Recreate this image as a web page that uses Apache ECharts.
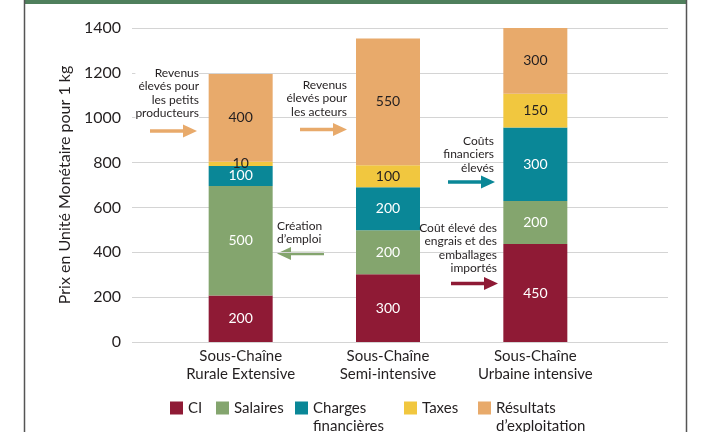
<!DOCTYPE html>
<html>
<head>
<meta charset="utf-8">
<script src="https://cdn.jsdelivr.net/npm/echarts@6/dist/echarts.min.js"></script>
<style>
  html, body { margin: 0; padding: 0; background: #fff; }
  #chart { width: 713px; height: 432px; }
</style>
</head>
<body>
<div id="chart"></div>
<script>
// catégories et valeurs
const categories = ['Sous-Chaîne\nRurale Extensive', 'Sous-Chaîne\nSemi-intensive', 'Sous-Chaîne\nUrbaine intensive']
const ciValues = [207, 302, 437]
const salairesValues = [489, 196, 192]
const chargesValues = [89, 192, 327]
const taxesValues = [19, 98, 151]
const resultatsValues = [391, 565, 293]

// étiquettes affichées dans les barres
const ciLabels = ['200', '300', '450']
const salairesLabels = ['500', '200', '200']
const chargesLabels = ['100', '200', '300']
const taxesLabels = ['10', '100', '150']
const resultatsLabels = ['400', '550', '300']

const yTicks = { min: 0, max: 1400, interval: 200 }

const FONT = 'Lato'
const TEXT = '#231f20'

const chart = echarts.init(document.getElementById('chart'))

const makeSeries = (name, values, labels, color, labelColor) => ({
  name: name,
  type: 'bar',
  stack: 'total',
  xAxisIndex: 1,
  yAxisIndex: 1,
  barWidth: 64,
  data: values,
  itemStyle: { color: color },
  label: {
    show: true,
    position: 'inside',
    color: labelColor,
    fontFamily: FONT,
    fontSize: 14,
    formatter: p => labels[p.dataIndex]
  }
})

// flèche horizontale (décoration)
const arrow = (x1, x2, y, color) => {
  const dir = x2 > x1 ? 1 : -1
  const head = 14
  return {
    type: 'group',
    children: [
      { type: 'line', shape: { x1: x1, y1: y, x2: x2 - dir * head, y2: y }, style: { stroke: color, lineWidth: 3.5 } },
      { type: 'polygon', shape: { points: [[x2, y], [x2 - dir * head, y - 6.5], [x2 - dir * head, y + 6.5]] }, style: { fill: color } }
    ]
  }
}

const note = (x, y, text, align, bg) => ({
  type: 'text',
  x: x,
  y: y,
  z: 10,
  style: {
    text: text,
    align: align,
    verticalAlign: 'top',
    font: '12px ' + FONT,
    lineHeight: 13.5,
    fill: TEXT,
    backgroundColor: bg || 'transparent'
  }
})

// carré en haut d'une case plus haute, pour aligner l'icône sur la 1re ligne
const TOP_SQUARE = 'path://M0,0L13,0L13,13L0,13ZM0,31L0.01,31L0,31.01Z'

const legendItem = (name, left, twoLines) => ({
  left: left,
  top: 399,
  padding: 0,
  orient: 'horizontal',
  data: [name],
  icon: twoLines ? TOP_SQUARE : 'rect',
  itemWidth: 13,
  itemHeight: twoLines ? 31 : 13,
  selectedMode: false,
  textStyle: {
    fontFamily: FONT,
    fontSize: 15,
    color: TEXT,
    lineHeight: 18
  }
})

chart.setOption({
  backgroundColor: '#fff',
  animation: false,
  grid: [
    { left: 132, right: 45, top: 28, bottom: 90 },
    { left: 167, right: 104, top: 28, bottom: 90 }
  ],
  xAxis: [
    { type: 'category', gridIndex: 0, data: [''], show: false },
    {
      type: 'category',
      gridIndex: 1,
      data: categories,
      axisLine: { show: false },
      axisTick: { show: false },
      axisLabel: { interval: 0, fontFamily: FONT, fontSize: 15, color: TEXT, lineHeight: 18, margin: 5 }
    }
  ],
  yAxis: [
    {
      type: 'value',
      gridIndex: 0,
      min: yTicks.min,
      max: yTicks.max,
      interval: yTicks.interval,
      name: 'Prix en Unité Monétaire pour 1 kg',
      nameLocation: 'middle',
      nameGap: 36,
      nameTextStyle: { fontFamily: FONT, fontSize: 16, color: TEXT },
      axisLine: { show: false },
      axisTick: { show: false },
      axisLabel: { fontFamily: FONT, fontSize: 16, color: TEXT, margin: 11, formatter: v => String(v) },
      splitLine: { lineStyle: { color: '#d4d4d4', width: 1 } }
    },
    { type: 'value', gridIndex: 1, min: yTicks.min, max: yTicks.max, show: false, splitLine: { show: false } }
  ],
  legend: [
    legendItem('CI', 170, false),
    legendItem('Salaires', 216, false),
    legendItem('Charges\nfinancières', 295, true),
    legendItem('Taxes', 404, false),
    legendItem('Résultats\nd\u2019exploitation', 478, true)
  ],
  series: [
    makeSeries('CI', ciValues, ciLabels, '#8f1a35', '#fff'),
    makeSeries('Salaires', salairesValues, salairesLabels, '#84a56e', '#fff'),
    makeSeries('Charges\nfinancières', chargesValues, chargesLabels, '#0a8797', '#fff'),
    makeSeries('Taxes', taxesValues, taxesLabels, '#f1c73f', TEXT),
    makeSeries('Résultats\nd\u2019exploitation', resultatsValues, resultatsLabels, '#e8aa6b', TEXT)
  ],
  graphic: [
    // cadre
    { type: 'rect', shape: { x: 24, y: 0, width: 663, height: 4 }, style: { fill: '#4f7f5c' } },
    { type: 'line', shape: { x1: 24.5, y1: 0, x2: 24.5, y2: 432 }, style: { stroke: '#555', lineWidth: 1.5 } },
    { type: 'line', shape: { x1: 686.5, y1: 0, x2: 686.5, y2: 432 }, style: { stroke: '#555', lineWidth: 1.5 } },
    // annotations
    note(199, 66, 'Revenus\nélevés pour\nles petits\nproducteurs', 'right', '#fff'),
    arrow(150, 197, 131, '#e8aa6b'),
    note(347, 78, 'Revenus\nélevés pour\nles acteurs', 'right'),
    arrow(300, 347, 129.5, '#e8aa6b'),
    note(494, 134, 'Coûts\nfinanciers\nélevés', 'right'),
    arrow(448, 495, 182, '#0a8797'),
    note(497, 221, 'Coût élevé des\nengrais et des\nemballages\nimportés', 'right'),
    arrow(451, 498, 283.5, '#8f1a35'),
    note(277, 219, 'Création\nd\u2019emploi', 'left'),
    arrow(324, 277, 253.5, '#84a56e')
  ]
})
</script>
</body>
</html>
